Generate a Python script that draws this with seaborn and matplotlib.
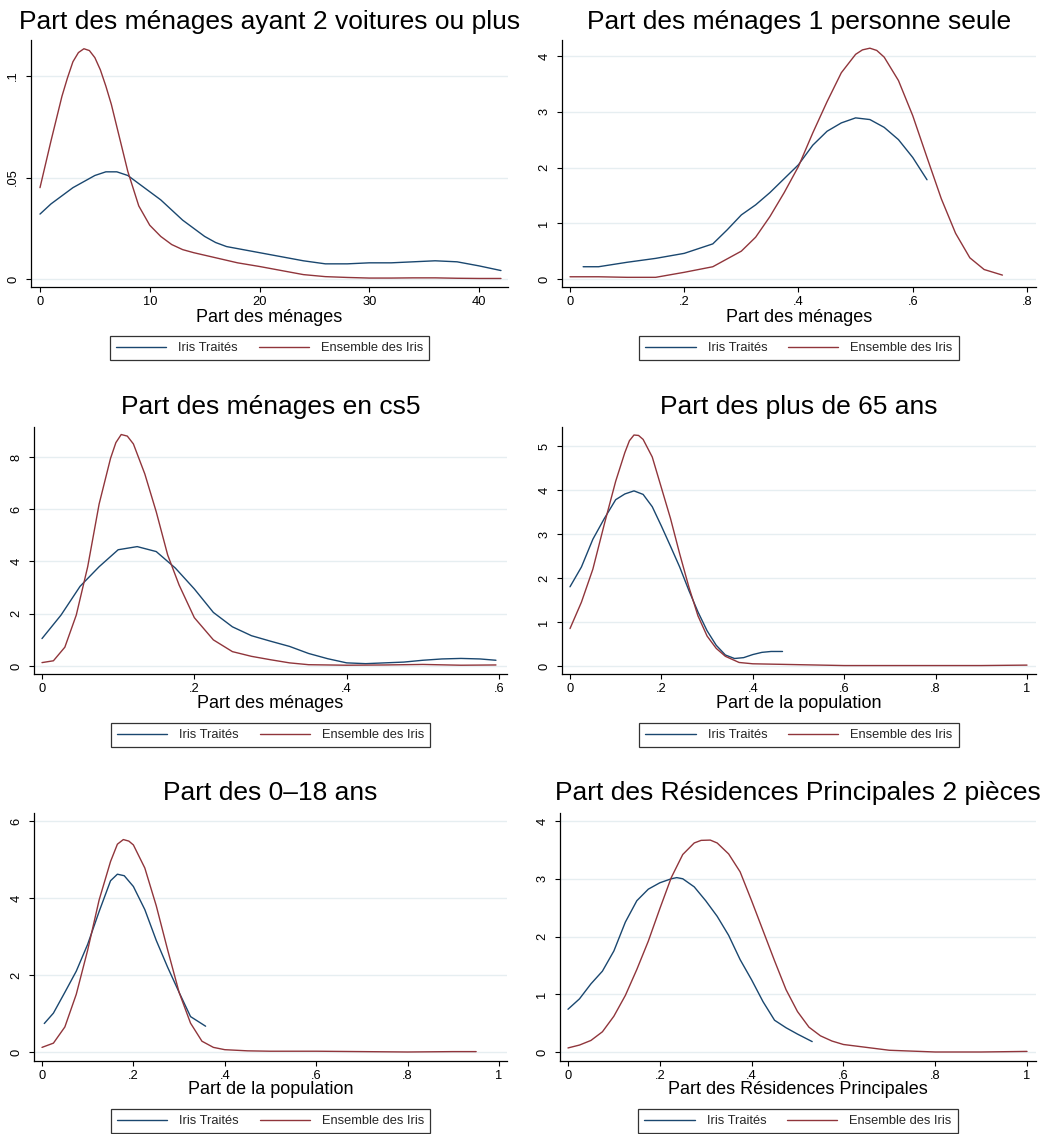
import matplotlib
matplotlib.use("Agg")
import matplotlib.pyplot as plt
import seaborn as sns
import numpy as np

# kernel density curves
# panel 1 : 2 voitures ou plus
p1_x_trait = [0, 1, 2, 3, 4, 5, 6, 7, 8, 9, 10, 11, 12, 13, 14, 15, 16, 17, 18, 20, 22, 24, 26, 28, 30, 32, 34, 36, 38, 40, 42]
p1_y_trait = [.032, .037, .041, .045, .048, .051, .0528, .0528, .051, .047, .043, .039, .034, .029, .025, .021, .018,
              .016, .015, .013, .011, .009, .0075, .0075, .008, .008, .0085, .009, .0085, .0065, .0042]
p1_x_all = [0, 1, 2, 2.5, 3, 3.5, 4, 4.5, 5, 5.5, 6, 6.5, 7, 7.5, 8, 9, 10, 11, 12, 13, 14, 16, 18, 20, 22, 24, 26,
            28, 30, 32, 34, 36, 38, 40, 42]
p1_y_all = [.045, .068, .090, .099, .107, .1115, .1134, .1125, .109, .103, .095, .086, .075, .064, .053, .036, .0265,
            .021, .017, .0145, .013, .0105, .008, .0062, .0042, .0022, .0012, .0008, .0005, .0005, .0006, .0006,
            .0004, .0003, .0003]

# panel 2 : 1 personne seule
p2_x_trait = [.023, .05, .1, .15, .2, .25, .275, .3, .325, .35, .375, .4, .425, .45, .475, .5, .525, .55, .575, .6, .625]
p2_y_trait = [.22, .22, .30, .37, .46, .63, .88, 1.15, 1.33, 1.55, 1.80, 2.05, 2.40, 2.65, 2.80, 2.89, 2.86, 2.72,
              2.50, 2.18, 1.78]
p2_x_all = [0, .05, .1, .15, .2, .25, .3, .325, .35, .375, .4, .425, .45, .475, .5, .512, .525, .537, .55, .575,
            .6, .625, .65, .675, .7, .725, .757]
p2_y_all = [.04, .04, .03, .03, .12, .22, .50, .75, 1.12, 1.55, 2.02, 2.62, 3.18, 3.70, 4.03, 4.11, 4.14, 4.10,
            3.98, 3.56, 2.93, 2.18, 1.44, .82, .38, .17, .07]

# panel 3 : cs5
p3_x_trait = [0, .025, .05, .075, .1, .125, .15, .175, .2, .225, .25, .275, .3, .325, .35, .375, .4, .425, .45, .475,
              .5, .525, .55, .575, .596]
p3_y_trait = [1.05, 1.95, 3.05, 3.80, 4.45, 4.57, 4.38, 3.75, 2.95, 2.05, 1.50, 1.16, .95, .75, .48, .28, .12, .09,
              .12, .15, .22, .27, .29, .27, .22]
p3_x_all = [0, .015, .03, .045, .06, .075, .09, .097, .104, .112, .12, .135, .15, .165, .18, .2, .225, .25, .275,
            .3, .325, .35, .4, .45, .5, .55, .596]
p3_y_all = [.13, .20, .72, 1.95, 3.80, 6.20, 7.95, 8.55, 8.86, 8.80, 8.50, 7.35, 5.90, 4.25, 3.10, 1.85, 1.00, .55,
            .37, .24, .12, .05, .03, .04, .06, .03, .04]

# panel 4 : plus de 65 ans
p4_x_trait = [0, .025, .05, .075, .1, .12, .14, .16, .18, .2, .22, .24, .26, .28, .3, .32, .34, .36, .38, .4, .42,
              .44, .465]
p4_y_trait = [1.80, 2.25, 2.88, 3.35, 3.78, 3.91, 3.98, 3.90, 3.62, 3.18, 2.72, 2.25, 1.72, 1.23, .80, .47, .25, .17,
              .19, .26, .31, .33, .33]
p4_x_all = [0, .025, .05, .075, .1, .12, .13, .14, .15, .16, .18, .2, .22, .24, .26, .28, .3, .32, .34, .37, .4, .5,
            .6, .7, .8, .9, 1.0]
p4_y_all = [.85, 1.45, 2.20, 3.22, 4.20, 4.85, 5.12, 5.25, 5.24, 5.15, 4.75, 4.05, 3.35, 2.55, 1.80, 1.14, .68, .40,
            .22, .08, .05, .03, .01, .01, .01, .01, .02]

# panel 5 : 0-18 ans
p5_x_trait = [.005, .025, .05, .075, .1, .125, .15, .165, .18, .2, .225, .25, .275, .3, .325, .358]
p5_y_trait = [.74, 1.01, 1.55, 2.10, 2.80, 3.65, 4.45, 4.62, 4.58, 4.30, 3.70, 2.90, 2.20, 1.55, .92, .67]
p5_x_all = [0, .025, .05, .075, .1, .125, .15, .165, .178, .19, .2, .225, .25, .275, .3, .325, .35, .375, .4, .45,
            .5, .6, .7, .8, .9, .95]
p5_y_all = [.12, .23, .65, 1.50, 2.65, 3.95, 4.95, 5.40, 5.52, 5.48, 5.38, 4.78, 3.80, 2.65, 1.55, .75, .28, .12,
            .06, .03, .02, .02, .01, .00, .01, .01]

# panel 6 : RP 2 pieces
p6_x_trait = [0, .025, .05, .075, .1, .125, .15, .175, .2, .225, .237, .25, .275, .3, .325, .35, .375, .4, .425, .45,
              .475, .5, .532]
p6_y_trait = [.74, .92, 1.18, 1.40, 1.75, 2.25, 2.62, 2.82, 2.93, 3.00, 3.02, 3.00, 2.86, 2.62, 2.35, 2.02, 1.60,
              1.25, .87, .55, .42, .31, .18]
p6_x_all = [0, .025, .05, .075, .1, .125, .15, .175, .2, .225, .25, .275, .29, .31, .325, .35, .375, .4, .425, .45,
            .475, .5, .525, .55, .575, .6, .65, .7, .8, .9, 1.0]
p6_y_all = [.07, .12, .20, .35, .62, .98, 1.43, 1.92, 2.48, 3.02, 3.42, 3.62, 3.665, 3.67, 3.62, 3.43, 3.12, 2.62,
            2.10, 1.58, 1.08, .70, .43, .28, .19, .13, .08, .03, .00, .00, .01]

titles = ["Part des ménages ayant 2 voitures ou plus", "Part des ménages 1 personne seule",
          "Part des ménages en cs5", "Part des plus de 65 ans",
          "Part des 0\u201318 ans", "Part des Résidences Principales 2 pièces"]
xlabels = ["Part des ménages", "Part des ménages", "Part des ménages", "Part de la population",
           "Part de la population", "Part des Résidences Principales"]
xticks = [[0, 10, 20, 30, 40], [0, .2, .4, .6, .8], [0, .2, .4, .6],
          [0, .2, .4, .6, .8, 1], [0, .2, .4, .6, .8, 1], [0, .2, .4, .6, .8, 1]]
yticks = [[0, .05, .1], [0, 1, 2, 3, 4], [0, 2, 4, 6, 8],
          [0, 1, 2, 3, 4, 5], [0, 2, 4, 6], [0, 1, 2, 3, 4]]
legend_labels = ["Iris Traités", "Ensemble des Iris"]

curves = [(p1_x_trait, p1_y_trait, p1_x_all, p1_y_all),
          (p2_x_trait, p2_y_trait, p2_x_all, p2_y_all),
          (p3_x_trait, p3_y_trait, p3_x_all, p3_y_all),
          (p4_x_trait, p4_y_trait, p4_x_all, p4_y_all),
          (p5_x_trait, p5_y_trait, p5_x_all, p5_y_all),
          (p6_x_trait, p6_y_trait, p6_x_all, p6_y_all)]

# layout (pixels: left, top, right, bottom) and axis ranges
W, H = 1048, 1134
boxes = [(31, 40, 508, 287), (562, 40, 1036, 287),
         (34, 427, 507, 674), (562, 427, 1036, 674),
         (34, 813, 507, 1061), (560, 813, 1036, 1061)]
xlims = [(-0.82, 42.64), (-0.014, 0.8158), (-0.0105, 0.6105),
         (-0.0175, 1.0197), (-0.0175, 1.0175), (-0.0174, 1.0196)]
ylims = [(-0.0039, 0.1177), (-0.1435, 4.287), (-0.306, 9.148),
         (-0.182, 5.432), (-0.234, 6.21), (-0.156, 4.139)]
title_y = [22, 22, 407, 407, 793, 793]
xlabel_y = [318, 318, 703, 703, 1090, 1090]
legend_top = [336, 336, 723, 723, 1109, 1109]

NAVY = "#1a476f"
MAROON = "#90353b"

sns.set_theme(style="white")
plt.rcParams['font.family'] = ['Liberation Sans', 'DejaVu Sans']


def stata_fmt(v, pos=None):
    s = f"{v:g}"
    if s.startswith("0."):
        s = s[1:]
    return s


fig = plt.figure(figsize=(W / 100, H / 100), dpi=100)
fig.patch.set_facecolor("white")

for i in range(6):
    l, t, r, b = boxes[i]
    ax = fig.add_axes([l / W, 1 - b / H, (r - l) / W, (b - t) / H])
    ax.set_facecolor("white")
    xt, yt, xa, ya = curves[i]
    sns.lineplot(x=xt, y=yt, ax=ax, color=NAVY, lw=1.0, estimator=None, sort=False)
    sns.lineplot(x=xa, y=ya, ax=ax, color=MAROON, lw=1.0, estimator=None, sort=False)

    ax.set_xlim(*xlims[i])
    ax.set_ylim(*ylims[i])
    ax.set_xticks(xticks[i])
    ax.set_yticks(yticks[i])
    ax.set_xticklabels([stata_fmt(v) for v in xticks[i]])
    ax.set_yticklabels([stata_fmt(v) for v in yticks[i]], rotation=90, va="center")

    ax.yaxis.grid(True, color="#e6eef1", lw=1.0)
    ax.xaxis.grid(False)
    for side in ["top", "right"]:
        ax.spines[side].set_visible(False)
    for side in ["left", "bottom"]:
        ax.spines[side].set_color("black")
        ax.spines[side].set_linewidth(0.9)
    ax.tick_params(axis="both", which="major", direction="out", length=3.5, width=0.8,
                   color="black", labelsize=9.3, labelcolor="black")
    ax.tick_params(axis="x", pad=3, bottom=True)
    ax.tick_params(axis="y", pad=5, left=True)

    cx = (l + r) / 2 / W
    fig.text(cx, 1 - title_y[i] / H, titles[i], ha="center", va="center", fontsize=19, color="black")
    ax.set_xlabel(xlabels[i], fontsize=13, color="black", va="center")
    ax.xaxis.set_label_coords(0.5, -(xlabel_y[i] - b) / (b - t))
    ax.set_ylabel("")

    leg = ax.legend(ax.lines[:2], legend_labels, loc="upper center", ncol=2,
                    bbox_to_anchor=(cx, 1 - legend_top[i] / H), bbox_transform=fig.transFigure,
                    borderaxespad=0, frameon=True, fancybox=False, fontsize=9.3,
                    handlelength=3.9, handletextpad=0.93, columnspacing=1.6, borderpad=0.47)
    leg.get_frame().set_edgecolor("black")
    leg.get_frame().set_linewidth(0.9)

fig.savefig("out.png", dpi=100, facecolor="white")
